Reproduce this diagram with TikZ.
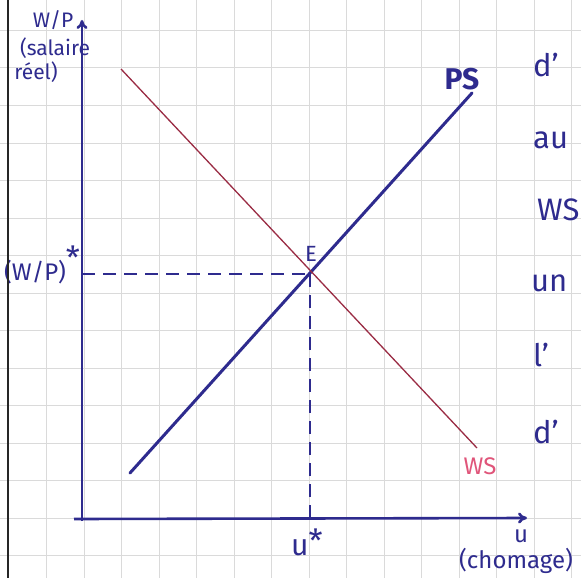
\documentclass[tikz,border=0pt]{standalone}
\usepackage{fontspec}
\setmainfont{Fira Sans}
\usetikzlibrary{arrows.meta}
\definecolor{ink}{HTML}{2E2B8E}
\definecolor{wsline}{HTML}{9A2C44}
\definecolor{wslabel}{HTML}{E0557A}
\definecolor{gridc}{HTML}{DADADA}
\newcommand{\bigstar}[1]{\raisebox{#1}{\fontsize{32}{32}\selectfont *}}
\begin{document}
\begin{tikzpicture}[x=1pt,y=-1pt,
  axis/.style={ink,line width=2.6pt,-{To[length=9pt,width=11pt]}},
  psline/.style={ink,line width=3pt,line cap=round},
  wsl/.style={wsline,line width=1.3pt},
  guide/.style={ink,line width=1.8pt,dash pattern=on 13pt off 8pt},
  lab/.style={ink,font=\fontsize{20}{20}\selectfont,inner sep=0pt},
  side/.style={ink,font=\fontsize{31}{31}\selectfont,inner sep=0pt,anchor=west}]
\useasboundingbox (0,0) rectangle (581,578);
\fill[white] (0,0) rectangle (581,578);
% grid paper
\foreach \x in {46.5,84,121.5,159,196.5,234,271.5,309,346.5,384,421.5,459,496.5,534,571.5}
  \draw[gridc,line width=1pt] (\x,0) -- (\x,578);
\foreach \y in {30.5,68,105.5,143,180.5,218,255.5,293,330.5,368,405.5,443,480.5,518,555.5}
  \draw[gridc,line width=1pt] (0,\y) -- (581,\y);
% axes
\coordinate (ybot) at (82,521);
\coordinate (ytop) at (82,20);
\coordinate (xbeg) at (74,519);
\coordinate (xend) at (527,518);
\draw[axis] (ybot) -- (ytop);
\draw[axis] (xbeg) -- (xend);
% curves
\coordinate (E) at (310,274);
\coordinate (ps0) at (130,473);
\coordinate (ps1) at (472,93);
\coordinate (ws0) at (121,69);
\coordinate (ws1) at (477,448);
\draw[psline] (ps0) -- (ps1);
\draw[wsl] (ws0) -- (ws1);
% guides
\coordinate (Ey) at (82,274);
\coordinate (Ex) at (310,518);
\draw[guide] (Ey) -- (E);
\draw[guide] (E) -- (Ex);
% labels
\node[lab,font=\fontsize{22}{22}\selectfont] (lE) at (311,254) {E};
\node[lab,font=\fontsize{24}{24}\selectfont,anchor=base west] (lwp) at (4,280) {(W/P)\bigstar{11pt}};
\node[lab,font=\fontsize{30}{30}\selectfont,anchor=base] (lu) at (307,555) {u\bigstar{3pt}};
\node[lab,font=\fontsize{30}{30}\selectfont\bfseries] (lps) at (462,79) {PS};
\node[lab,wslabel,font=\fontsize{24}{24}\selectfont] (lws) at (480,466) {WS};
\node[lab,font=\fontsize{21}{21}\selectfont] (ly1) at (53,20) {W/P};
\node[lab,font=\fontsize{21}{21}\selectfont] (ly2) at (55,48) {(salaire};
\node[lab,font=\fontsize{21}{21}\selectfont] (ly3) at (36,72) {réel)};
\node[lab,font=\fontsize{24}{24}\selectfont] (lx1) at (521,536) {u};
\begin{scope}
\clip (0,0) rectangle (581,578);
\node[lab,font=\fontsize{24}{24}\selectfont,anchor=west] (lx2) at (459,561) {(chomage)};
\node[side] (s1) at (533,65) {d'};
\node[side] (s2) at (533,140) {au};
\node[side] (s3) at (537,210) {WS};
\node[side] (s4) at (531,283) {un};
\node[side] (s5) at (533,355) {l'};
\node[side] (s6) at (533,432) {d'};
\end{scope}
% margin line
\draw[black!85,line width=2.4pt] (8,0) -- (8,578);
\end{tikzpicture}
\end{document}
